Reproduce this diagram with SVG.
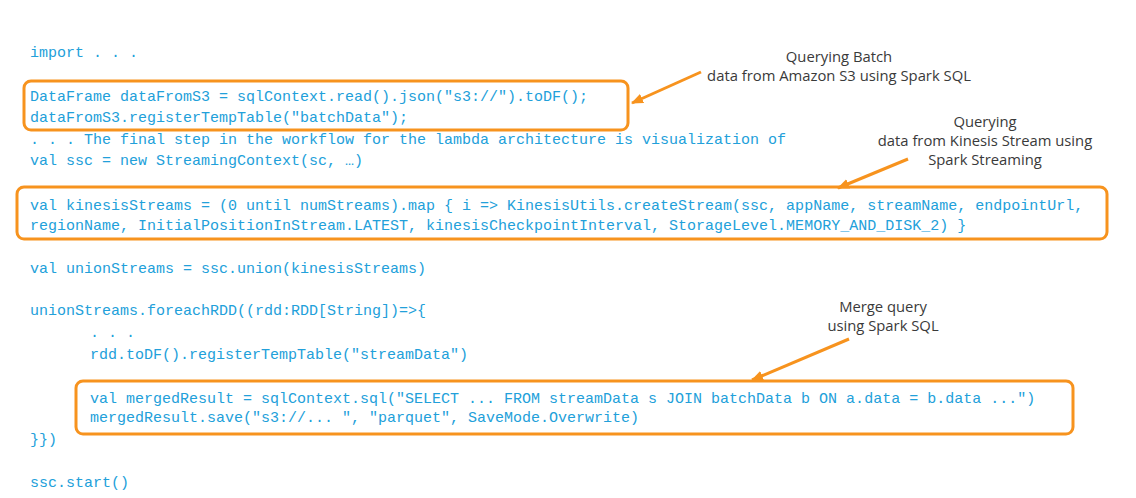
<svg xmlns="http://www.w3.org/2000/svg" width="1136" height="498" viewBox="0 0 1136 498">
<style>
.code{font-family:"Liberation Mono","DejaVu Sans Mono",monospace;font-size:15px;fill:#22a0da;white-space:pre}
.box{fill:none;stroke:#f7931e;stroke-width:3}
.lbl{font-family:"Open Sans","Noto Sans",sans-serif;font-size:14.8px;fill:#3a3a3a;text-anchor:middle}
.conn{stroke:#f7931e;stroke-width:3;fill:none}
</style>
<defs>
<marker id="ah" viewBox="0 0 12 10" refX="11" refY="5" markerWidth="12" markerHeight="10" markerUnits="userSpaceOnUse" orient="auto">
<path d="M0,0 L12,5 L0,10 Z" fill="#f7931e"/>
</marker>
</defs>
<rect width="1136" height="498" fill="#ffffff"/>
<g id="code">
<text class="code" x="30" y="57">import . . .</text>
<text class="code" x="30" y="101">DataFrame dataFromS3 = sqlContext.read().json("s3://").toDF();</text>
<text class="code" x="30" y="122">dataFromS3.registerTempTable("batchData");</text>
<text class="code" x="30" y="144">. . . The final step in the workflow for the lambda architecture is visualization of</text>
<text class="code" x="30" y="165">val ssc = new StreamingContext(sc, …)</text>
<text class="code" x="30" y="210">val kinesisStreams = (0 until numStreams).map { i =&gt; KinesisUtils.createStream(ssc, appName, streamName, endpointUrl,</text>
<text class="code" x="30" y="230">regionName, InitialPositionInStream.LATEST, kinesisCheckpointInterval, StorageLevel.MEMORY_AND_DISK_2) }</text>
<text class="code" x="30" y="273">val unionStreams = ssc.union(kinesisStreams)</text>
<text class="code" x="30" y="315">unionStreams.foreachRDD((rdd:RDD[String])=&gt;{</text>
<text class="code" x="90" y="337">. . .</text>
<text class="code" x="90" y="359">rdd.toDF().registerTempTable("streamData")</text>
<text class="code" x="90" y="403">val mergedResult = sqlContext.sql("SELECT ... FROM streamData s JOIN batchData b ON a.data = b.data ...")</text>
<text class="code" x="90" y="422">mergedResult.save("s3://... ", "parquet", SaveMode.Overwrite)</text>
<text class="code" x="30" y="444">}})</text>
<text class="code" x="30" y="487">ssc.start()</text>
</g>
<g id="box-batch"><rect class="box" x="24" y="81" width="604" height="49" rx="7"/></g>
<g id="box-stream"><rect class="box" x="17" y="187" width="1090" height="52" rx="7"/></g>
<g id="box-merge"><rect class="box" x="76" y="381" width="997" height="53" rx="7"/></g>
<g id="label-batch">
<text class="lbl" x="839" y="62">Querying Batch</text>
<text class="lbl" x="839" y="81">data from Amazon S3 using Spark SQL</text>
</g>
<g id="label-stream">
<text class="lbl" x="985" y="127">Querying</text>
<text class="lbl" x="985" y="146">data from Kinesis Stream using</text>
<text class="lbl" x="985" y="165">Spark Streaming</text>
</g>
<g id="label-merge">
<text class="lbl" x="883" y="312">Merge query</text>
<text class="lbl" x="883" y="331">using Spark SQL</text>
</g>
<g id="connectors">
<line class="conn" x1="701" y1="72" x2="632" y2="103" marker-end="url(#ah)"/>
<line class="conn" x1="908" y1="159" x2="838" y2="188" marker-end="url(#ah)"/>
<line class="conn" x1="849" y1="339" x2="752" y2="380" marker-end="url(#ah)"/>
</g>
</svg>
